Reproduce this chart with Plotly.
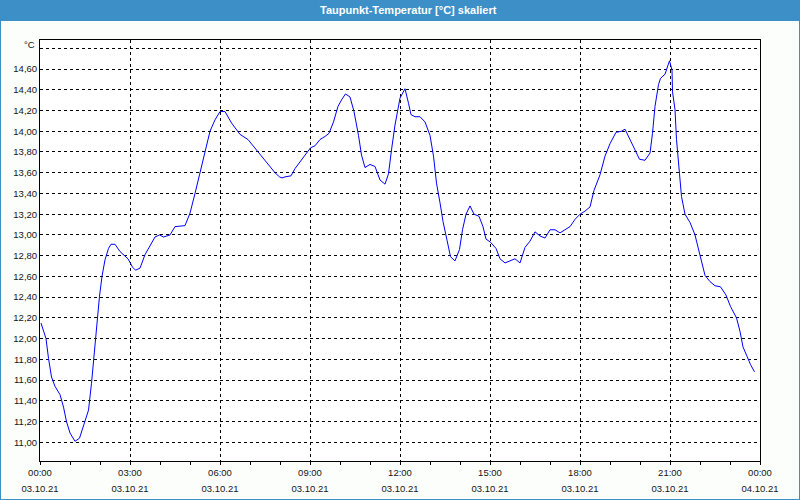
import plotly.graph_objects as go

# ---- data ----
times = ["00:02","00:12","00:17","00:23","00:30","00:40","00:47","00:53","01:00","01:10",
         "01:19","01:26","01:37","01:43","01:48","01:53","01:59","02:04","02:10","02:17",
         "02:22","02:30","02:40","02:56","03:05","03:11","03:20","03:30","03:40","03:50",
         "03:59","04:07","04:20","04:30","04:50","05:00","05:10","05:20","05:30","05:40",
         "05:50","06:00","06:10","06:23","06:40","06:56","07:13","07:34","07:50","07:59",
         "08:04","08:10","08:22","08:30","08:43","08:53","09:01","09:10","09:20","09:30",
         "09:38","09:47","09:56","10:04","10:11","10:20","10:28","10:37","10:43","10:50",
         "11:00","11:10","11:20","11:30","11:37","11:43","11:50","12:00","12:10","12:17",
         "12:22","12:30","12:40","12:50","13:00","13:07","13:13","13:20","13:26","13:34",
         "13:41","13:50","13:59","14:05","14:12","14:20","14:28","14:38","14:46","14:52",
         "15:01","15:12","15:20","15:30","15:40","15:50","16:00","16:10","16:20","16:30",
         "16:40","16:50","17:00","17:10","17:20","17:30","17:40","17:50","18:00","18:10",
         "18:20","18:28","18:40","18:50","19:00","19:12","19:23","19:30","19:40","19:50",
         "19:59","20:10","20:20","20:25","20:30","20:37","20:41","20:50","20:59","21:04",
         "21:05","21:10","21:13","21:19","21:23","21:30","21:40","21:50","22:00","22:10",
         "22:20","22:30","22:41","22:52","23:01","23:13","23:20","23:26","23:34","23:41",
         "23:49"]
values = [12.15,12.00,11.81,11.63,11.54,11.46,11.34,11.20,11.09,11.01,
          11.04,11.14,11.31,11.57,11.83,12.15,12.41,12.60,12.76,12.87,
          12.91,12.91,12.84,12.77,12.69,12.66,12.68,12.81,12.90,12.98,
          13.00,12.98,13.00,13.08,13.09,13.21,13.40,13.59,13.80,14.00,
          14.11,14.19,14.19,14.08,13.97,13.92,13.82,13.69,13.60,13.56,
          13.55,13.56,13.57,13.64,13.72,13.79,13.84,13.86,13.92,13.95,
          13.98,14.09,14.24,14.31,14.36,14.33,14.19,13.96,13.77,13.65,
          13.68,13.66,13.53,13.49,13.59,13.82,14.06,14.32,14.41,14.27,
          14.16,14.14,14.14,14.09,13.96,13.76,13.50,13.31,13.13,12.95,
          12.79,12.75,12.86,13.05,13.20,13.28,13.20,13.18,13.08,12.96,
          12.93,12.87,12.77,12.73,12.75,12.77,12.73,12.88,12.94,13.03,
          12.99,12.97,13.05,13.05,13.02,13.05,13.08,13.15,13.20,13.23,
          13.27,13.43,13.58,13.76,13.88,13.99,14.00,14.02,13.92,13.82,
          13.73,13.72,13.79,13.98,14.24,14.45,14.51,14.55,14.68,14.59,
          14.38,14.21,13.92,13.59,13.37,13.20,13.12,13.00,12.81,12.61,
          12.55,12.51,12.50,12.42,12.31,12.20,12.07,11.92,11.83,11.75,
          11.68]

day = "2021-10-03"
x = [f"{day} {t}" for t in times]

x_tick_vals = ["2021-10-03 00:00","2021-10-03 03:00","2021-10-03 06:00","2021-10-03 09:00",
               "2021-10-03 12:00","2021-10-03 15:00","2021-10-03 18:00","2021-10-03 21:00",
               "2021-10-04 00:00"]
x_tick_time = ["00:00","03:00","06:00","09:00","12:00","15:00","18:00","21:00","00:00"]
x_tick_date = ["03.10.21"] * 8 + ["04.10.21"]

y_tick_vals = [11.0,11.2,11.4,11.6,11.8,12.0,12.2,12.4,12.6,12.8,13.0,13.2,13.4,13.6,13.8,
               14.0,14.2,14.4,14.6,14.8]
y_tick_text = [f"{v:.2f}".replace(".", ",") for v in y_tick_vals[:-1]] + [""]

title_text = "Taupunkt-Temperatur [°C] skaliert"
unit_text = "°C"

# ---- styling ----
BLUE = "#3c8fc7"
FONT = "Liberation Sans"
TXT = "#141414"
FS = 9.5
W, H = 800, 500
ML, MR, MT, MB = 40, 40, 40, 39
pw, ph = W - ML - MR, H - MT - MB

fig = go.Figure()
fig.add_trace(go.Scatter(x=x, y=values, mode="lines",
                         line=dict(color="#0000ff", width=1), hoverinfo="skip",
                         showlegend=False))
fig.add_trace(go.Scatter(x=x, y=values, mode="lines", xaxis="x2",
                         line=dict(color="rgba(0,0,0,0)", width=0), hoverinfo="skip",
                         showlegend=False))

xr = ["2021-10-03 00:00", "2021-10-04 00:00"]
fig.update_layout(
    width=W, height=H, autosize=False,
    margin=dict(l=ML, r=MR, t=MT, b=MB, pad=0, autoexpand=False),
    paper_bgcolor="#fcfefc", plot_bgcolor="#ffffff",
    font=dict(family=FONT, size=FS, color=TXT),
    xaxis=dict(type="date", range=xr, tickmode="array", tickvals=x_tick_vals,
               ticktext=x_tick_time, ticks="outside", ticklen=3, tickwidth=1,
               tickcolor="black", showgrid=True, gridcolor="black", gridwidth=1,
               griddash="3px,3px", showline=True, linecolor="black", linewidth=1,
               mirror=True, zeroline=False, automargin=False,
               tickfont=dict(family=FONT, size=FS, color=TXT),
               minor=dict(tickmode="linear", tick0="2021-10-03 00:00", dtick=3600000,
                          ticks="outside", ticklen=3, tickcolor="black", showgrid=False)),
    xaxis2=dict(type="date", range=xr, overlaying="x", anchor="y", side="bottom",
                tickmode="array", tickvals=x_tick_vals, ticktext=x_tick_date,
                ticks="", showgrid=False, showline=False, zeroline=False,
                ticklabelstandoff=20, automargin=False,
                tickfont=dict(family=FONT, size=FS, color=TXT)),
    yaxis=dict(range=[10.82, 14.88], tickmode="array", tickvals=y_tick_vals,
               ticktext=y_tick_text, ticks="", showgrid=True, gridcolor="black",
               gridwidth=1, griddash="3px,3px", showline=True, linecolor="black",
               linewidth=1, mirror=True, zeroline=False, automargin=False,
               tickfont=dict(family=FONT, size=FS, color=TXT)),
)

# title bar and outer frame
fig.add_shape(type="rect", xref="paper", yref="paper",
              x0=-ML / pw, x1=1 + MR / pw, y0=1 + (MT - 21) / ph, y1=1 + MT / ph,
              fillcolor=BLUE, line=dict(width=0), layer="below")
fig.add_shape(type="rect", xref="paper", yref="paper",
              x0=-ML / pw, x1=1 + MR / pw, y0=-MB / ph, y1=1 + MT / ph,
              fillcolor="rgba(0,0,0,0)", line=dict(color=BLUE, width=2))

fig.add_annotation(text=title_text, xref="paper", yref="paper",
                   x=(408 - ML) / pw, y=1 + (MT - 10) / ph, xanchor="center",
                   yanchor="middle", showarrow=False,
                   font=dict(family=FONT, size=11, color="white", weight="bold"))
fig.add_annotation(text=unit_text, xref="paper", yref="y", x=0, y=14.84,
                   xanchor="right", yanchor="middle", xshift=-3, showarrow=False,
                   font=dict(family=FONT, size=FS, color=TXT))

fig.write_html("out.html")
